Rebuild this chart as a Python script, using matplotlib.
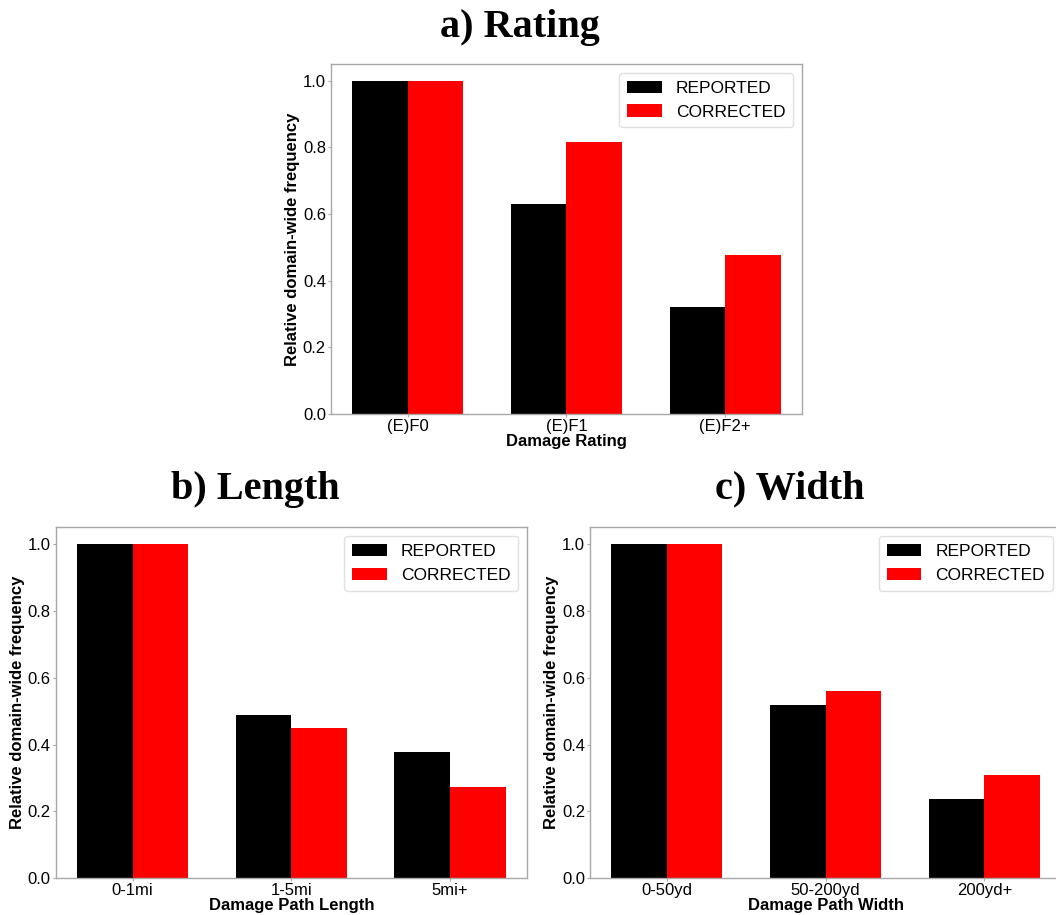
import numpy as np
import matplotlib.pyplot as plt

# Relative domain-wide frequencies (normalised to the first class)
rating_labels = ["(E)F0", "(E)F1", "(E)F2+"]
rating_reported = [1.0, 0.63, 0.32]
rating_corrected = [1.0, 0.815, 0.478]

length_labels = ["0-1mi", "1-5mi", "5mi+"]
length_reported = [1.0, 0.49, 0.377]
length_corrected = [1.0, 0.45, 0.273]

width_labels = ["0-50yd", "50-200yd", "200yd+"]
width_reported = [1.0, 0.518, 0.236]
width_corrected = [1.0, 0.56, 0.31]

plt.rcParams["font.family"] = ["Liberation Sans", "DejaVu Sans"]

BAR_W = 0.35
SPINE_COLOR = "#a8a8a8"


def bar_panel(ax, labels, reported, corrected, xlabel):
    x = np.arange(len(labels))
    ax.bar(x - BAR_W / 2, reported, BAR_W, color="black", label="REPORTED")
    ax.bar(x + BAR_W / 2, corrected, BAR_W, color="#ff0000", label="CORRECTED")
    ax.set_xticks(x)
    ax.set_xticklabels(labels)
    ax.set_yticks([0.0, 0.2, 0.4, 0.6, 0.8, 1.0])
    ax.set_xlabel(xlabel, fontsize=12, fontweight="bold", labelpad=0)
    ax.set_ylabel("Relative domain-wide frequency", fontsize=12,
                  fontweight="bold", labelpad=2)
    ax.tick_params(labelsize=12, length=2, width=0.8, pad=1.5,
                   color=SPINE_COLOR)
    for sp in ax.spines.values():
        sp.set_color(SPINE_COLOR)
        sp.set_linewidth(1.0)
    leg = ax.legend(loc="upper right", fontsize=12.5, fancybox=True,
                    framealpha=1.0, borderpad=0.45)
    leg.get_frame().set_edgecolor("#e0e0e0")


fig = plt.figure(figsize=(10.56, 9.15), dpi=100)

ax_a = fig.add_axes([0.3132, 0.5475, 0.4463, 0.3825])
ax_b = fig.add_axes([0.0527, 0.0401, 0.4463, 0.3836])
ax_c = fig.add_axes([0.5587, 0.0401, 0.4463, 0.3836])

bar_panel(ax_a, rating_labels, rating_reported, rating_corrected, "Damage Rating")
bar_panel(ax_b, length_labels, length_reported, length_corrected, "Damage Path Length")
bar_panel(ax_c, width_labels, width_reported, width_corrected, "Damage Path Width")

title_kw = dict(fontsize=29, fontweight="bold", family=["Liberation Serif"],
                ha="center", va="center")
fig.text(520 / 1056, 1 - 27 / 915, "a) Rating", **title_kw)
fig.text(255 / 1056, 1 - 489 / 915, "b) Length", **title_kw)
fig.text(790 / 1056, 1 - 489 / 915, "c) Width", **title_kw)

fig.savefig("out.png", dpi=100)
